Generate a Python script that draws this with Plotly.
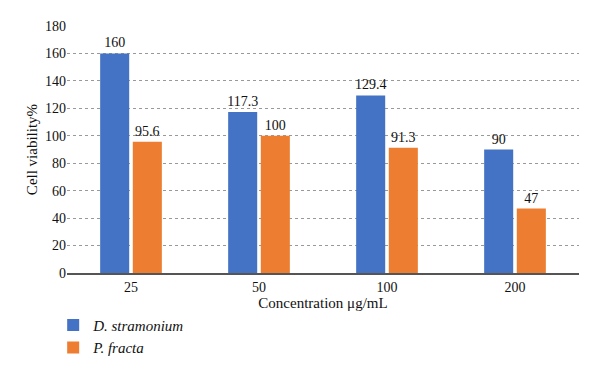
import plotly.graph_objects as go

categories = ["25", "50", "100", "200"]
d_stramonium = [160, 117.3, 129.4, 90]
p_fracta = [95.6, 100, 91.3, 47]
d_labels = ["160", "117.3", "129.4", "90"]
p_labels = ["95.6", "100", "91.3", "47"]
y_ticks = [0, 20, 40, 60, 80, 100, 120, 140, 160, 180]

font_family = "Liberation Serif, Times New Roman, serif"

fig = go.Figure()
fig.add_trace(go.Bar(
    x=categories, y=d_stramonium, name="<i>D. stramonium</i>",
    marker=dict(color="#4472C4", line=dict(width=0)),
    text=d_labels, textposition="outside", cliponaxis=False, constraintext="none",
    textfont=dict(size=14, color="#111111", family=font_family),
))
fig.add_trace(go.Bar(
    x=categories, y=p_fracta, name="<i>P. fracta</i>",
    marker=dict(color="#ED7D31", line=dict(width=0)),
    text=p_labels, textposition="outside", cliponaxis=False, constraintext="none",
    textfont=dict(size=14, color="#111111", family=font_family),
))

# the page body has an 8px default margin, so the figure is sized to fit the window
fig.update_layout(
    width=592, height=371,
    margin=dict(l=59, r=21, t=18, b=106),
    paper_bgcolor="white", plot_bgcolor="white",
    barmode="group", bargap=0.49, bargroupgap=0.11,
    font=dict(family=font_family, size=14, color="#111111"),
    showlegend=True,
    legend=dict(
        x=-0.027, xanchor="left", y=-0.145, yanchor="top",
        orientation="v", font=dict(size=15, family=font_family),
        tracegroupgap=0, itemsizing="constant",
        bgcolor="rgba(0,0,0,0)",
    ),
)
fig.update_xaxes(
    type="category",
    title=dict(text="Concentration μg/mL", font=dict(size=15, family=font_family), standoff=2),
    showline=True, linecolor="#555555", linewidth=1.5,
    ticks="", showgrid=False,
    tickfont=dict(size=14, family=font_family),
)
fig.update_yaxes(
    range=[0, 180], tickvals=y_ticks,
    title=dict(text="Cell viability%", font=dict(size=15, family=font_family), standoff=3),
    showgrid=True, gridcolor="#999999", griddash="dot", gridwidth=1,
    zeroline=False, showline=False, ticks="",
    tickfont=dict(size=14, family=font_family),
)

fig.write_html("out.html")
